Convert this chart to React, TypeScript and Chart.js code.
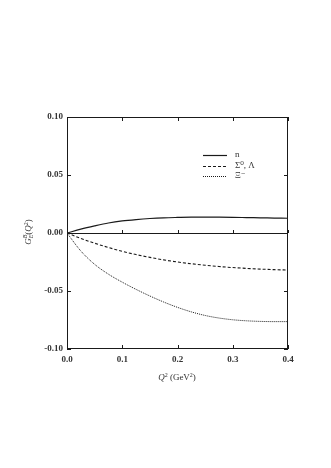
import React, { useEffect, useRef } from "react";
import { Chart, registerables } from "chart.js";

Chart.register(...registerables);

const q2 = [0, 0.025, 0.05, 0.075, 0.1, 0.125, 0.15, 0.175, 0.2, 0.225, 0.25, 0.275, 0.3, 0.325, 0.35, 0.375, 0.4];
const nValues = [0, 0.0033, 0.0061, 0.0086, 0.0104, 0.0116, 0.0125, 0.0131, 0.0134, 0.0136, 0.0136, 0.0136, 0.0135, 0.0133, 0.0131, 0.0129, 0.0127];
const sigmaLambdaValues = [0, -0.0047, -0.0088, -0.0125, -0.0158, -0.0186, -0.021, -0.0232, -0.025, -0.0265, -0.0278, -0.0289, -0.0298, -0.0305, -0.0311, -0.0316, -0.0319];
const xiValues = [0, -0.0155, -0.027, -0.0355, -0.0424, -0.0486, -0.0543, -0.0595, -0.0641, -0.068, -0.0711, -0.0733, -0.0748, -0.0757, -0.0762, -0.0764, -0.0764];
const seriesLabels = ["n", "Σ⁰, Λ", "Ξ⁻"];
const xTickValues = [0, 0.1, 0.2, 0.3, 0.4];
const yTickValues = [-0.1, -0.05, 0, 0.05, 0.1];

const FONT = '"Liberation Serif", "DejaVu Serif", serif';
const INK = "#1a1a1a";
const LABEL = "#333";

type Run = { t: string; style?: string; dy?: number; size?: number; noAdvance?: boolean };

function drawRuns(ctx: CanvasRenderingContext2D, runs: Run[], cx: number, cy: number, base: number) {
  const widths = runs.map((r) => {
    ctx.font = `${r.style || ""} ${r.size || base}px ${FONT}`;
    return ctx.measureText(r.t).width;
  });
  let total = 0;
  runs.forEach((r, i) => {
    if (!r.noAdvance) total += widths[i];
  });
  let x = cx - total / 2;
  ctx.textBaseline = "middle";
  ctx.textAlign = "left";
  runs.forEach((r, i) => {
    ctx.font = `${r.style || ""} ${r.size || base}px ${FONT}`;
    ctx.fillText(r.t, x, cy + (r.dy || 0));
    if (!r.noAdvance) x += widths[i];
  });
}

const framePlugin = {
  id: "frame",
  afterDatasetsDraw(chart: any) {
    const { ctx, chartArea } = chart;
    const { left, right, top, bottom } = chartArea;
    const xs = chart.scales.x;
    const ys = chart.scales.y;
    ctx.save();
    ctx.strokeStyle = INK;
    ctx.lineWidth = 1;
    ctx.strokeRect(left + 0.5, top + 0.5, right - left - 1, bottom - top - 1);
    const tl = 4;
    ctx.beginPath();
    xTickValues.forEach((v) => {
      const px = Math.round(xs.getPixelForValue(v)) + 0.5;
      ctx.moveTo(px, bottom);
      ctx.lineTo(px, bottom - tl);
      ctx.moveTo(px, top);
      ctx.lineTo(px, top + tl);
      const zy = ys.getPixelForValue(0);
      ctx.moveTo(px, zy);
      ctx.lineTo(px, zy - 3);
    });
    yTickValues.forEach((v) => {
      const py = Math.round(ys.getPixelForValue(v)) + 0.5;
      ctx.moveTo(left, py);
      ctx.lineTo(left + tl, py);
      ctx.moveTo(right, py);
      ctx.lineTo(right - tl, py);
    });
    ctx.stroke();

    // legend
    const rows = [155, 166, 176];
    chart.data.datasets.forEach((ds: any, i: number) => {
      const y = rows[i] + 0.5;
      ctx.beginPath();
      ctx.setLineDash(ds.borderDash || []);
      ctx.lineWidth = ds.borderWidth;
      ctx.strokeStyle = ds.borderColor;
      ctx.moveTo(203, y);
      ctx.lineTo(227, y);
      ctx.stroke();
      ctx.setLineDash([]);
      ctx.fillStyle = LABEL;
      ctx.font = `9px ${FONT}`;
      ctx.textAlign = "left";
      ctx.textBaseline = "middle";
      ctx.fillText(ds.label, 235, rows[i]);
    });

    // titles
    ctx.fillStyle = LABEL;
    drawRuns(
      ctx,
      [
        { t: "Q", style: "italic" },
        { t: "2", size: 6, dy: -3 },
        { t: " (GeV" },
        { t: "2", size: 6, dy: -3 },
        { t: ")" },
      ],
      177,
      378,
      9
    );
    ctx.save();
    ctx.translate(29, 232);
    ctx.rotate(-Math.PI / 2);
    drawRuns(
      ctx,
      [
        { t: "G", style: "italic" },
        { t: "B", style: "italic", size: 6, dy: -3.5, noAdvance: true },
        { t: "E", style: "italic", size: 6, dy: 2.5 },
        { t: "(" },
        { t: "Q", style: "italic" },
        { t: "2", size: 6, dy: -3 },
        { t: ")" },
      ],
      0,
      0,
      9
    );
    ctx.restore();
    ctx.restore();
  },
};

export default function App() {
  const ref = useRef<HTMLCanvasElement | null>(null);
  useEffect(() => {
    if (!ref.current) return;
    const mk = (ys: number[]) => q2.map((x, i) => ({ x, y: ys[i] }));
    const chart = new Chart(ref.current, {
      type: "line",
      data: {
        datasets: [
          { label: seriesLabels[0], data: mk(nValues), borderColor: INK, borderWidth: 1.2, pointRadius: 0, cubicInterpolationMode: "monotone" },
          { label: seriesLabels[1], data: mk(sigmaLambdaValues), borderColor: INK, borderWidth: 1.1, borderDash: [3, 2], pointRadius: 0, cubicInterpolationMode: "monotone" },
          { label: seriesLabels[2], data: mk(xiValues), borderColor: INK, borderWidth: 1, borderDash: [1, 1], pointRadius: 0, cubicInterpolationMode: "monotone" },
        ] as any,
      },
      options: {
        animation: false,
        responsive: false,
        devicePixelRatio: 1,
        layout: { padding: { top: 117, right: 43, left: 0, bottom: 0 } },
        plugins: { legend: { display: false }, tooltip: { enabled: false } },
        scales: {
          x: {
            type: "linear",
            min: 0,
            max: 0.4,
            afterBuildTicks: (s: any) => {
              s.ticks = xTickValues.map((v) => ({ value: v }));
            },
            afterFit: (s: any) => {
              s.height = 119;
            },
            grid: { display: false, drawTicks: false },
            border: { display: false },
            ticks: {
              padding: 5,
              color: LABEL,
              font: { family: FONT, size: 9, weight: "bold" },
              maxRotation: 0,
              callback: (v: any) => Number(v).toFixed(1),
            },
          },
          y: {
            type: "linear",
            min: -0.1,
            max: 0.1,
            afterBuildTicks: (s: any) => {
              s.ticks = yTickValues.map((v) => ({ value: v }));
            },
            afterFit: (s: any) => {
              s.width = 67;
            },
            grid: {
              drawTicks: false,
              lineWidth: 1,
              color: (c: any) => (c.tick && Math.abs(c.tick.value) < 1e-9 ? INK : "rgba(0,0,0,0)"),
            },
            border: { display: false },
            ticks: {
              padding: 4,
              color: LABEL,
              font: { family: FONT, size: 9, weight: "bold" },
              callback: (v: any) => Number(v).toFixed(2),
            },
          },
        },
      },
      plugins: [framePlugin],
    });
    return () => chart.destroy();
  }, []);
  return (
    <div style={{ position: "absolute", left: 0, top: 0, width: 331, height: 468, background: "#fff" }}>
      <canvas ref={ref} width={331} height={468} style={{ width: 331, height: 468, display: "block" }} />
    </div>
  );
}
